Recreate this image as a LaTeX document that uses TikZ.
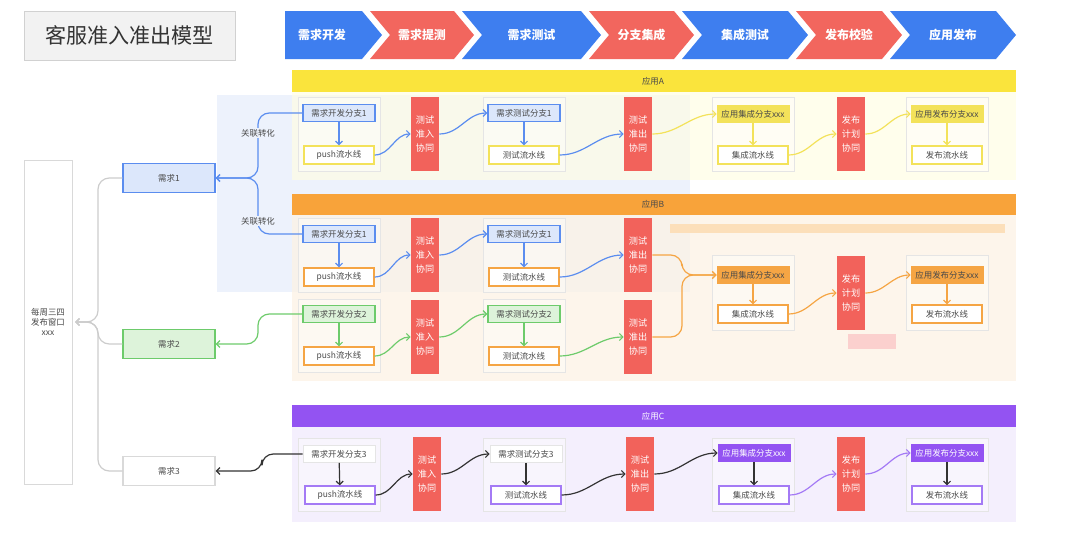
\documentclass[tikz,border=0pt]{standalone}
\usepackage{fontspec}
\setmainfont{Noto Sans CJK SC}
\usetikzlibrary{arrows.meta,positioning}
\definecolor{CB}{HTML}{3E7EEF}
\definecolor{CR}{HTML}{F2665E}
\definecolor{TX}{HTML}{4A4A4A}
\definecolor{BGB}{HTML}{EDF2FC}
\definecolor{YH}{HTML}{FAE43C}
\definecolor{YF}{HTML}{FFFDE4}
\definecolor{OH}{HTML}{F8A33A}
\definecolor{OF}{HTML}{FDF2E4}
\definecolor{PH}{HTML}{9353F2}
\definecolor{PF}{HTML}{F4EFFD}
\definecolor{LB}{HTML}{5B8DEF}
\definecolor{LBF}{HTML}{DCE7FB}
\definecolor{LG}{HTML}{6DCB6B}
\definecolor{LGF}{HTML}{DDF3DA}
\definecolor{LY}{HTML}{F3E25A}
\definecolor{LO}{HTML}{F5A544}
\definecolor{LP}{HTML}{A47AF5}
\definecolor{LK}{HTML}{333333}
\definecolor{GT}{HTML}{F2625B}

\tikzset{
  small/.style={font=\fontsize{6}{7}\selectfont},
  topbox/.style={small, draw, text=TX, minimum width=1.8cm, minimum height=0.43cm, inner sep=0pt},
  bluetop/.style={topbox, draw=LB, fill=LBF, line width=0.8pt},
  greentop/.style={topbox, draw=LG, fill=LGF, line width=0.8pt},
  whitetop/.style={topbox, draw=black!10, fill=white},
  yellowtop/.style={topbox, draw=LY, fill=LY},
  orangetop/.style={topbox, draw=LO, fill=LO},
  purpletop/.style={topbox, draw=PH, fill=PH, text=white},
  plbox/.style={small, draw=#1, fill=white, text=TX, line width=0.8pt,
    minimum width=1.75cm, minimum height=0.45cm, inner sep=0pt},
  gate/.style={fill=GT, text=white, align=center, inner sep=0pt,
    font=\fontsize{6.5}{10}\selectfont, minimum width=0.7cm, minimum height=1.85cm},
  grp/.style={draw=black!10, fill=white, fill opacity=0.4},
  flow/.style={draw=#1, line width=0.85pt, -{Straight Barb[length=2.5pt,width=5pt]}},
  reqbox/.style={small, draw, text=TX, line width=0.8pt, minimum width=2.3cm, minimum height=0.72cm},
  phase/.style={text=white, font=\fontsize{8.5}{10}\selectfont\bfseries},
  hdr/.style={small, text=TX}
}

\begin{document}
\begin{tikzpicture}[x=0.025cm, y=-0.025cm]
  \useasboundingbox (0,0) rectangle (1080,546);

  % title and phases
  \node[draw=black!18, fill=black!5, minimum width=5.275cm, minimum height=1.225cm,
        font=\fontsize{15}{18}\selectfont, text=black!80] (title) at (129.5,35.5) {客服准入准出模型};
  \fill[CB] (285,11) -- (362,11) -- (382,35) -- (362,59) -- (285,59) -- cycle;
  \node[phase] (ph0) at (322,35) {需求开发};
  \foreach \b/\t/\col/\txt in {370/474/CR/需求提测, 462/601/CB/需求测试, 589/694/CR/分支集成,
                               682/808/CB/集成测试, 796/902/CR/发布校验, 890/1016/CB/应用发布} {
    \fill[\col] (\b,11) -- (\t-20,11) -- (\t,35) -- (\t-20,59) -- (\b,59) -- (\b+20,35) -- cycle;
    \node[phase] (ph\b) at ({(\b+\t)/2},35) {\txt};
  }

  % bands
  \fill[BGB] (217,95) rectangle (690,292);
  \fill[YF, fill opacity=0.7] (292,92) rectangle (1016,180);
  \fill[OF, fill opacity=0.75] (292,215) rectangle (1016,381);
  \fill[PF] (292,427) rectangle (1016,522);
  \fill[YH] (292,70) rectangle (1016,92);
  \fill[OH] (292,194) rectangle (1016,215);
  \fill[PH] (292,405) rectangle (1016,427);
  \node[hdr] (hA) at (653,81) {应用A};
  \node[hdr] (hB) at (653,204.5) {应用B};
  \node[hdr, text=white] (hC) at (653,416) {应用C};
  \fill[OH!35] (670,224) rectangle (1005,233);
  \fill[GT!30] (848,334) rectangle (896,349);

  % group frames
  \foreach \y/\h in {97/171, 218/292, 299/372, 438/511} {
    \draw[grp] (298,\y) rectangle (380,\h);
    \draw[grp] (483,\y) rectangle (565,\h);
  }
  \foreach \y/\h in {97/171, 255/330, 438/511} {
    \draw[grp] (712,\y) rectangle (794,\h);
    \draw[grp] (906,\y) rectangle (988,\h);
  }

  % app A
  \node[bluetop] (adev) at (339,113) {需求开发分支1};
  \node[plbox=LY] (apush) at (339,155) {push流水线};
  \node[gate] (agate1) at (425,134) {测试\\准入\\协同};
  \node[bluetop] (atest) at (524,113) {需求测试分支1};
  \node[plbox=LY] (atestpl) at (524,155) {测试流水线};
  \node[gate] (agate2) at (638,134) {测试\\准出\\协同};
  \node[yellowtop] (aint) at (753,114) {应用集成分支xxx};
  \node[plbox=LY] (aintpl) at (753,155) {集成流水线};
  \node[gate] (agate3) at (851,134) {发布\\计划\\协同};
  \node[yellowtop] (arel) at (947,114) {应用发布分支xxx};
  \node[plbox=LY] (arelpl) at (947,155) {发布流水线};
  \draw[flow=LB] (adev) -- (apush);
  \draw[flow=LB] (atest) -- (atestpl);
  \draw[flow=LY] (aint) -- (aintpl);
  \draw[flow=LY] (arel) -- (arelpl);
  \draw[flow=LB] (apush.east) to[out=0,in=180] (agate1.west);
  \draw[flow=LB] (agate1.east) to[out=0,in=180] (atest.west);
  \draw[flow=LB] (atestpl.east) to[out=0,in=180] (agate2.west);
  \draw[flow=LY] (agate2.east) to[out=0,in=180] (aint.west);
  \draw[flow=LY] (aintpl.east) to[out=0,in=180] (agate3.west);
  \draw[flow=LY] (agate3.east) to[out=0,in=180] (arel.west);

  % app B
  \node[bluetop] (bdev1) at (339,234) {需求开发分支1};
  \node[plbox=LO] (bpush1) at (339,277) {push流水线};
  \node[gate] (bgate11) at (425,255) {测试\\准入\\协同};
  \node[bluetop] (btest1) at (524,234) {需求测试分支1};
  \node[plbox=LO] (btestpl1) at (524,277) {测试流水线};
  \node[gate] (bgate21) at (638,255) {测试\\准出\\协同};
  \node[greentop] (bdev2) at (339,314) {需求开发分支2};
  \node[plbox=LO] (bpush2) at (339,356) {push流水线};
  \node[gate] (bgate12) at (425,337) {测试\\准入\\协同};
  \node[greentop] (btest2) at (524,314) {需求测试分支2};
  \node[plbox=LO] (btestpl2) at (524,356) {测试流水线};
  \node[gate] (bgate22) at (638,337) {测试\\准出\\协同};
  \node[orangetop] (bint) at (753,275) {应用集成分支xxx};
  \node[plbox=LO] (bintpl) at (753,314) {集成流水线};
  \node[gate] (bgate3) at (851,293) {发布\\计划\\协同};
  \node[orangetop] (brel) at (947,275) {应用发布分支xxx};
  \node[plbox=LO] (brelpl) at (947,314) {发布流水线};
  \draw[flow=LB] (bdev1) -- (bpush1);
  \draw[flow=LB] (btest1) -- (btestpl1);
  \draw[flow=LG] (bdev2) -- (bpush2);
  \draw[flow=LG] (btest2) -- (btestpl2);
  \draw[flow=LO] (bint) -- (bintpl);
  \draw[flow=LO] (brel) -- (brelpl);
  \draw[flow=LB] (bpush1.east) to[out=0,in=180] (bgate11.west);
  \draw[flow=LB] (bgate11.east) to[out=0,in=180] (btest1.west);
  \draw[flow=LB] (btestpl1.east) to[out=0,in=180] (bgate21.west);
  \draw[flow=LG] (bpush2.east) to[out=0,in=180] (bgate12.west);
  \draw[flow=LG] (bgate12.east) to[out=0,in=180] (btest2.west);
  \draw[flow=LG] (btestpl2.east) to[out=0,in=180] (bgate22.west);
  \coordinate (ohub) at (682,275);
  \draw[flow=LO, rounded corners=8pt] (bgate21.east) -| (ohub) -- (bint.west);
  \draw[flow=LO, rounded corners=8pt] (bgate22.east) -| (ohub) -- (bint.west);
  \draw[flow=LO] (bintpl.east) to[out=0,in=180] (bgate3.west);
  \draw[flow=LO] (bgate3.east) to[out=0,in=180] (brel.west);

  % app C
  \node[whitetop] (cdev) at (339,454) {需求开发分支3};
  \node[plbox=LP] (cpush) at (340,495) {push流水线};
  \node[gate] (cgate1) at (427,474) {测试\\准入\\协同};
  \node[whitetop] (ctest) at (526,454) {需求测试分支3};
  \node[plbox=LP] (ctestpl) at (526,495) {测试流水线};
  \node[gate] (cgate2) at (640,474) {测试\\准出\\协同};
  \node[purpletop] (cint) at (754,453) {应用集成分支xxx};
  \node[plbox=LP] (cintpl) at (754,495) {集成流水线};
  \node[gate] (cgate3) at (851,474) {发布\\计划\\协同};
  \node[purpletop] (crel) at (947,453) {应用发布分支xxx};
  \node[plbox=LP] (crelpl) at (947,495) {发布流水线};
  \draw[flow=LK] (cdev) -- (cpush);
  \draw[flow=LK] (ctest) -- (ctestpl);
  \draw[flow=LK] (cint) -- (cintpl);
  \draw[flow=LK] (crel) -- (crelpl);
  \draw[flow=LK] (cpush.east) to[out=0,in=180] (cgate1.west);
  \draw[flow=LK] (cgate1.east) to[out=0,in=180] (ctest.west);
  \draw[flow=LK] (ctestpl.east) to[out=0,in=180] (cgate2.west);
  \draw[flow=LK] (cgate2.east) to[out=0,in=180] (cint.west);
  \draw[flow=LP] (cintpl.east) to[out=0,in=180] (cgate3.west);
  \draw[flow=LP] (cgate3.east) to[out=0,in=180] (crel.west);

  % requirements and release window
  \node[small, draw=black!15, fill=white, text=TX, align=center,
        minimum width=1.2cm, minimum height=8.1cm] (win) at (48,322) {每周三四\\发布窗口\\xxx};
  \node[reqbox, draw=LB, fill=LBF] (req1) at (169,178) {需求1};
  \node[reqbox, draw=LG, fill=LGF] (req2) at (169,344) {需求2};
  \node[reqbox, draw=black!15, fill=white] (req3) at (169,471) {需求3};
  \coordinate (hub) at (98,322);
  \foreach \r in {req1,req2,req3}
    \draw[flow=black!20, rounded corners=8pt, shorten >=2pt] (\r.west) -| (hub) -- (win.east);

  \coordinate (bhub) at (258,178);
  \draw[flow=LB, rounded corners=8pt] (adev.west) -| (bhub) -- (req1.east);
  \draw[flow=LB, rounded corners=8pt] (bdev1.west) -| (bhub) -- (req1.east);
  \node[small, fill=BGB, text=TX, inner sep=1pt] (conv1) at (258,133) {关联转化};
  \node[small, fill=BGB, text=TX, inner sep=1pt] (conv2) at (258,221) {关联转化};
  \coordinate (ghub) at (258,344);
  \draw[flow=LG, rounded corners=8pt] (bdev2.west) -| (ghub) -- (req2.east);
  \coordinate (khub) at (262,471);
  \draw[flow=LK, rounded corners=8pt] (cdev.west) -| (khub) -- (req3.east);
\end{tikzpicture}
\end{document}
